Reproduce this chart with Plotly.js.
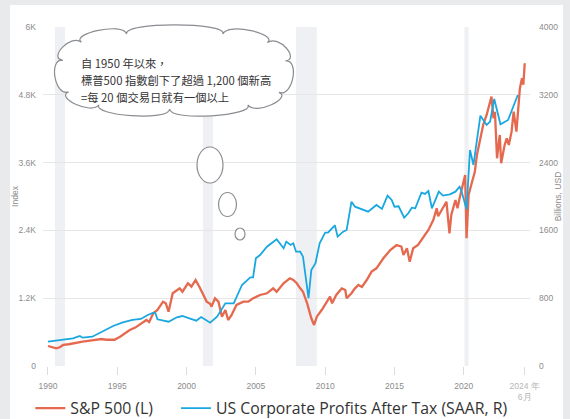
<!DOCTYPE html>
<html><head><meta charset="utf-8">
<script src="https://cdn.plot.ly/plotly-3.0.1.min.js"></script>
<style>
html,body{margin:0;padding:0;background:#e9eaec;width:570px;height:419px;overflow:hidden}
#chart{position:absolute;left:10px;top:5px;width:553px;height:414px;background:#fff}
</style></head><body><div id="chart"></div><script>
// ---- data ----
const spxYears = [1990.0,1990.3,1990.6,1990.85,1991.1,1991.5,1991.8,1992.2,1992.5,1992.9,1993.25,1993.85,1994.2,1994.45,1994.8,1995.2,1995.5,1995.9,1996.3,1996.6,1997.1,1997.3,1997.6,1997.9,1998.3,1998.5,1998.7,1999.0,1999.5,1999.7,2000.1,2000.35,2000.65,2000.95,2001.2,2001.45,2001.7,2001.8,2002.05,2002.3,2002.55,2002.8,2003.0,2003.25,2003.6,2004.1,2004.45,2004.8,2005.3,2005.8,2006.25,2006.5,2007.0,2007.45,2007.7,2007.95,2008.2,2008.4,2008.7,2008.9,2009.0,2009.2,2009.4,2009.75,2010.1,2010.35,2010.5,2010.8,2011.2,2011.45,2011.55,2011.9,2012.15,2012.4,2012.65,2013.0,2013.35,2013.7,2014.2,2014.7,2015.15,2015.5,2015.65,2015.9,2016.1,2016.35,2016.7,2017.1,2017.45,2017.8,2018.05,2018.15,2018.5,2018.75,2018.97,2019.1,2019.4,2019.55,2019.7,2019.95,2020.1,2020.2,2020.35,2020.6,2020.8,2020.95,2021.2,2021.4,2021.65,2021.9,2022.0,2022.15,2022.25,2022.4,2022.6,2022.7,2022.95,2023.1,2023.25,2023.45,2023.6,2023.8,2023.95,2024.05,2024.2,2024.3,2024.4];
const spxValues = [354,340,313,331,372,385,401,415,430,445,460,478,465,460,465,519,570,637,680,726,814,780,932,991,1138,1110,961,1287,1375,1315,1464,1404,1522,1390,1270,1140,1100,1050,1198,1138,873,991,814,903,1080,1138,1138,1198,1257,1287,1375,1315,1464,1552,1522,1464,1375,1315,1110,932,844,726,873,991,1138,1227,1110,1257,1375,1345,1198,1287,1375,1434,1400,1522,1670,1729,1906,2053,2142,2112,1965,2083,1846,2083,2142,2289,2407,2584,2791,2650,2791,2908,2349,2673,2938,2791,2968,3204,3381,2260,3027,3262,3439,3735,4059,4266,4443,4678,4767,4384,4500,3676,4089,3588,3912,4030,3912,4147,4501,4147,4650,4915,5092,4980,5358];

const profitYears = [1990.0,1990.8,1991.8,1992.3,1992.5,1993.2,1994.0,1994.7,1995.4,1996.1,1996.7,1997.2,1997.6,1997.75,1997.9,1998.7,1999.3,1999.7,2000.2,2000.7,2001.05,2001.7,2002.2,2002.8,2003.4,2004.0,2004.6,2004.8,2005.0,2005.3,2005.8,2006.5,2007.0,2007.2,2007.5,2007.7,2007.9,2008.2,2008.4,2008.8,2009.0,2009.3,2009.6,2010.0,2010.2,2010.6,2010.7,2010.9,2011.3,2011.55,2011.9,2012.15,2012.5,2013.1,2013.7,2014.1,2014.5,2014.8,2015.0,2015.3,2015.7,2016.0,2016.25,2016.5,2016.95,2017.2,2017.45,2017.7,2018.2,2018.5,2019.0,2019.4,2019.7,2019.85,2020.2,2020.45,2020.7,2021.2,2021.65,2021.9,2022.2,2022.65,2023.2,2023.55,2023.9];
const profitValues = [287,307,327,354,334,346,417,472,515,543,555,602,629,622,551,523,575,590,563,535,578,511,582,740,740,956,1046,1046,1271,1310,1408,1495,1389,1467,1428,1448,1349,1349,1290,799,1133,1212,1448,1573,1573,1644,1660,1526,1585,1605,1939,1880,1861,1821,1900,1853,2010,1959,1880,1885,1750,1802,1868,1861,2045,2030,2065,1861,2057,2010,2026,2057,2116,2057,1849,2549,2372,2954,2844,2883,3151,2852,2903,3060,3198];

const recessionStart = [1990.5, 2001.18, 2007.9, 2020.05];
const recessionEnd   = [1991.23, 2001.9, 2009.4, 2020.35];

const xTickVals = [1990,1995,2000,2005,2010,2015,2020,2024.4];
const xTickText = ['1990','1995','2000','2005','2010','2015','2020','<span style="color:#b5b5b5">2024 年<br>6月</span>'];
const yLeftTickVals = [0,1200,2400,3600,4800,6000];
const yLeftTickText = ['0','1.2K','2.4K','3.6K','4.8K','6K'];
const yRightTickVals = [0,800,1600,2400,3200,4000];
const yRightTickText = ['0','800','1600','2400','3200','4000'];

const cloudLines = ['自 1950 年以來，','標普500 指數創下了超過 1,200 個新高','=每 20 個交易日就有一個以上'];

// ---- helpers: page pixel -> paper fraction (plot area 43..530 x, 27..366 y) ----
const PX0=43, PX1=530, PY0=27, PY1=366;
const px = v => (v-PX0)/(PX1-PX0);
const py = v => (PY1-v)/(PY1-PY0);

// cloud outline: lobes between points on a rounded (superellipse) base
function cloudPath(cx, cy, rx, ry, n, h, off, p){
  const e = 2/p, pts=[];
  for(let i=0;i<=n;i++){
    const t = off + i*2*Math.PI/n, c=Math.cos(t), s=Math.sin(t);
    pts.push({x:cx+rx*Math.sign(c)*Math.pow(Math.abs(c),e), y:cy+ry*Math.sign(s)*Math.pow(Math.abs(s),e), nx:c, ny:s});
  }
  let d = 'M'+px(pts[0].x)+','+py(pts[0].y);
  for(let i=0;i<n;i++){
    const a=pts[i], b=pts[i+1];
    const c1x=a.x+a.nx*h, c1y=a.y+a.ny*h*0.85, c2x=b.x+b.nx*h, c2y=b.y+b.ny*h*0.85;
    d += ' C'+px(c1x)+','+py(c1y)+' '+px(c2x)+','+py(c2y)+' '+px(b.x)+','+py(b.y);
  }
  return d+' Z';
}

const grey='#8a8d91';
const shapes = [];
for(let i=0;i<recessionStart.length;i++){
  shapes.push({type:'rect',xref:'x',yref:'paper',x0:recessionStart[i],x1:recessionEnd[i],y0:0,y1:1,
    fillcolor:'#eef0f3',line:{width:0},layer:'below'});
}
shapes.push({type:'path',xref:'paper',yref:'paper',path:cloudPath(174,71,112,38,11,15,0.436,3),
  fillcolor:'#ffffff',line:{color:grey,width:1.2}});
shapes.push({type:'circle',xref:'paper',yref:'paper',x0:px(197),x1:px(223),y0:py(183),y1:py(147),fillcolor:'#fff',line:{color:grey,width:1.2}});
shapes.push({type:'circle',xref:'paper',yref:'paper',x0:px(218.5),x1:px(236.5),y0:py(216.5),y1:py(192.5),fillcolor:'#fff',line:{color:grey,width:1.2}});
shapes.push({type:'circle',xref:'paper',yref:'paper',x0:px(235),x1:px(245),y0:py(240),y1:py(228),fillcolor:'#fff',line:{color:grey,width:1.2}});

const cloudY=[63,80,97];
const annotations = cloudLines.map((t,i)=>({xref:'paper',yref:'paper',x:px(79),y:py(cloudY[i]),xanchor:'left',yanchor:'middle',
  text:t,showarrow:false,font:{family:'Noto Sans CJK TC, sans-serif',size:11.3,color:'#333'}}));

const tickFont = {family:'Liberation Sans Narrow, Arial Narrow, Liberation Sans, sans-serif',size:8.5,color:'#8c8c8c'};
const legendFont = {family:'Open Sans, sans-serif',size:15.8,color:'#333'};

const traces = [
  {x:spxYears,y:spxValues,type:'scatter',mode:'lines',name:'S&P 500 (L)',line:{color:'#e5694e',width:2.3},yaxis:'y',legend:'legend'},
  {x:profitYears,y:profitValues,type:'scatter',mode:'lines',name:'US Corporate Profits After Tax (SAAR, R)',line:{color:'#1aa7e0',width:1.8},yaxis:'y2',legend:'legend2'}
];

const layout = {
  width:553,height:414,
  margin:{l:33,r:33,t:22,b:53,pad:0,autoexpand:false},
  paper_bgcolor:'#ffffff',plot_bgcolor:'#ffffff',
  showlegend:true,
  legend:{orientation:'h',x:-0.026,y:-0.125,xanchor:'left',yanchor:'middle',font:legendFont,itemwidth:30,bgcolor:'rgba(0,0,0,0)'},
  legend2:{orientation:'h',x:0.273,y:-0.125,xanchor:'left',yanchor:'middle',font:legendFont,itemwidth:30,bgcolor:'rgba(0,0,0,0)'},
  xaxis:{range:[1989.64,2024.78],tickvals:xTickVals,ticktext:xTickText,showgrid:false,zeroline:false,
    ticks:'outside',ticklen:8,tickcolor:'#dcdcdc',tickwidth:1,tickfont:tickFont,ticklabelstandoff:4,showline:false,fixedrange:true},
  yaxis:{range:[0,6000],tickvals:yLeftTickVals,ticktext:yLeftTickText,gridcolor:'#e6e6e6',gridwidth:1,zeroline:false,
    tickfont:tickFont,ticklabelstandoff:6,showline:false,
    title:{text:'Index',font:{family:tickFont.family,size:8.5,color:'#8c8c8c'},standoff:4}},
  yaxis2:{range:[0,4000],overlaying:'y',side:'right',tickvals:yRightTickVals,ticktext:yRightTickText,showgrid:false,zeroline:false,
    tickfont:tickFont,ticklabelstandoff:8,showline:false,
    title:{text:'Billions, USD',font:{family:tickFont.family,size:8.5,color:'#8c8c8c'},standoff:4}},
  shapes:shapes,
  annotations:annotations
};
Plotly.newPlot('chart',traces,layout,{displayModeBar:false,staticPlot:true});
</script></body></html>
